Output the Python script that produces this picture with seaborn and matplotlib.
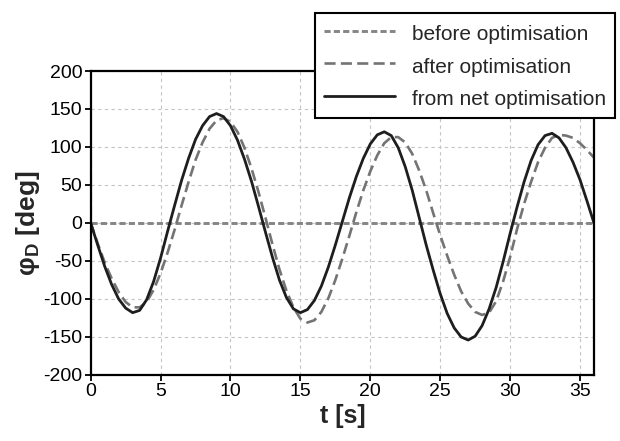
import numpy as np
import matplotlib
matplotlib.use("Agg")
import matplotlib.pyplot as plt
import seaborn as sns

# ~~~ Data ~~~
t_net = [0, 0.5, 1, 1.5, 2, 2.5, 3, 3.5, 4, 4.5, 5, 5.5, 6, 6.5, 7, 7.5, 8, 8.5,
         9, 9.5, 10, 10.5, 11, 11.5, 12, 12.5, 13, 13.5, 14, 14.5, 15, 15.5, 16,
         16.5, 17, 17.5, 18, 18.5, 19, 19.5, 20, 20.5, 21, 21.5, 22, 22.5, 23,
         23.5, 24, 24.5, 25, 25.5, 26, 26.5, 27, 27.5, 28, 28.5, 29, 29.5, 30,
         30.5, 31, 31.5, 32, 32.5, 33, 33.5, 34, 34.5, 35, 35.5, 36]
phi_net = [0, -29, -57, -81, -100, -112, -118, -115, -101, -77, -46, -11, 23, 56,
           85, 110, 128, 140, 144, 140, 128, 109, 84, 55, 22, -12, -45, -75, -98,
           -113, -118, -114, -102, -83, -58, -29, 2, 33, 61, 85, 104, 116, 120,
           115, 99, 74, 43, 7, -29, -62, -93, -119, -138, -150, -154, -149, -135,
           -113, -85, -51, -14, 21, 54, 82, 103, 115, 118, 112, 99, 80, 57, 29, 0]

t_after = [0] + t_net
phi_after = [87, 0, -27, -52, -73, -91, -104, -111, -111, -104, -88, -66, -39, -9,
             23, 54, 83, 106, 124, 135, 138, 133, 120, 99, 72, 41, 7, -28, -61,
             -89, -111, -126, -131, -128, -117, -99, -75, -47, -17, 14, 43, 68,
             89, 105, 113, 113, 106, 91, 69, 43, 13, -16, -43, -68, -90, -106,
             -117, -121, -118, -103, -77, -45, -8, 25, 54, 80, 99, 112, 116, 115,
             112, 105, 96, 86]

t_before = [0, 36]
phi_before = [0, 0]

x_ticks = [0, 5, 10, 15, 20, 25, 30, 35]
y_ticks = [-200, -150, -100, -50, 0, 50, 100, 150, 200]

# ~~~ Style ~~~
sns.set_style("white")
plt.rcParams["font.family"] = ["Liberation Sans", "DejaVu Sans"]
plt.rcParams["mathtext.fontset"] = "custom"
plt.rcParams["mathtext.rm"] = "Liberation Sans"
plt.rcParams["mathtext.bf"] = "Liberation Sans:bold"
plt.rcParams["axes.unicode_minus"] = False

fig = plt.figure(figsize=(6.2, 4.41), dpi=100)
ax = fig.add_axes([0.1463, 0.1497, 0.8117, 0.6893])

sns.lineplot(x=t_before, y=phi_before, ax=ax, color="#858585", linewidth=2.1,
             linestyle=(0, (2.1, 1.1)), label="before optimisation",
             estimator=None, sort=False)
sns.lineplot(x=t_after, y=phi_after, ax=ax, color="#747474", linewidth=1.9,
             linestyle=(0, (4.2, 2.0)), label="after optimisation",
             estimator=None, sort=False)
sns.lineplot(x=t_net, y=phi_net, ax=ax, color="#1e1e1e", linewidth=2.0,
             linestyle="-", label="from net optimisation",
             estimator=None, sort=False)

ax.set_xlim(0, 36)
ax.set_ylim(-200, 200)
ax.set_xticks(x_ticks)
ax.set_yticks(y_ticks)
ax.grid(True, color="#c4c4c4", linestyle=(0, (3, 3)), linewidth=0.8)
ax.tick_params(direction="out", length=4, width=1.3, labelsize=14,
               colors="black", left=True, bottom=True, pad=2)
for sp in ax.spines.values():
    sp.set_visible(True)
    sp.set_color("black")
    sp.set_linewidth(1.6)

ax.set_xlabel("t [s]", fontsize=18, fontweight="bold", labelpad=3)
ax.set_ylabel(r"φ$_{\mathbf{D}}$ [deg]", fontsize=19, fontweight="bold",
              labelpad=1)

leg = ax.legend(loc="upper right", bbox_to_anchor=(0.992, 0.971),
                bbox_transform=fig.transFigure, borderaxespad=0,
                fontsize=15, handlelength=3.45, handletextpad=0.8,
                handleheight=1.3, labelspacing=0.48, borderpad=0.42,
                fancybox=False, framealpha=1, edgecolor="black")
leg.get_frame().set_linewidth(1.5)

fig.savefig("out.png", dpi=100)
plt.close(fig)
